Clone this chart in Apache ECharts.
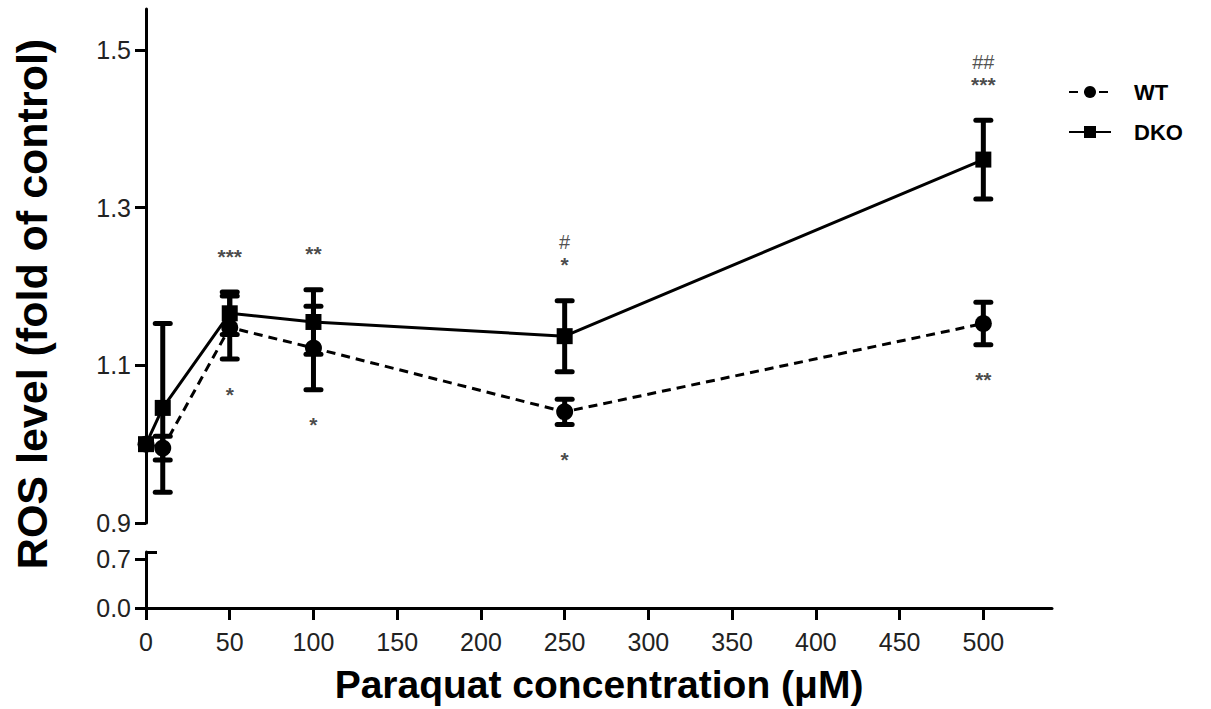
<!DOCTYPE html>
<html><head><meta charset="utf-8">
<script src="https://cdn.jsdelivr.net/npm/echarts@6/dist/echarts.min.js"></script>
<style>html,body{margin:0;padding:0;background:#fff}#c{width:1211px;height:709px}</style>
</head><body><div id="c"></div>
<script>
// ---- data ----
const concentrations = [0, 10, 50, 100, 250, 500];
const wtMean  = [1.000, 0.995, 1.148, 1.122, 1.041, 1.153];
const wtErr   = [0.000, 0.015, 0.040, 0.053, 0.016, 0.027];
const dkoMean = [1.000, 1.046, 1.166, 1.155, 1.137, 1.361];
const dkoErr  = [0.000, 0.107, 0.027, 0.041, 0.045, 0.050];
const starsAbove = ['', '', '***', '**', '*', '***'];
const hashAbove  = ['', '', '', '', '#', '##'];
const starsBelow = ['', '', '*', '*', '*', '**'];
const xTicks = [0, 50, 100, 150, 200, 250, 300, 350, 400, 450, 500];
const yTicksUpper = [0.9, 1.1, 1.3, 1.5];
const yTicksLower = [0.0, 0.7];
const seriesNames = ['WT', 'DKO'];
const xTitle = 'Paraquat concentration (\u03bcM)';
const yTitle = 'ROS level (fold of control)';

// ---- chart ----
const FONT = 'Liberation Sans, Arial, sans-serif';
const chart = echarts.init(document.getElementById('c'), null, {renderer: 'svg'});

function pts(means) { return concentrations.map((x, i) => [x, means[i]]); }
function errData(means, errs) {
  return concentrations.map((x, i) => [x, means[i] - errs[i], means[i] + errs[i], errs[i]]);
}
function errRender(params, api) {
  const e = api.value(3);
  if (!e) return {type: 'group', children: []};
  const x = api.value(0);
  const lo = api.coord([x, api.value(1)]);
  const hi = api.coord([x, api.value(2)]);
  const hw = 7.5;
  const capStyle = {stroke: '#000', lineWidth: 5, lineCap: 'round'};
  const stemStyle = {stroke: '#000', lineWidth: 5};
  return {type: 'group', children: [
    {type: 'line', shape: {x1: lo[0], y1: lo[1], x2: hi[0], y2: hi[1]}, style: stemStyle},
    {type: 'line', shape: {x1: lo[0] - hw, y1: lo[1], x2: lo[0] + hw, y2: lo[1]}, style: capStyle},
    {type: 'line', shape: {x1: hi[0] - hw, y1: hi[1], x2: hi[0] + hw, y2: hi[1]}, style: capStyle}
  ]};
}
function annot(texts, ref, sign) {
  return concentrations.map((x, i) => ({value: [x, ref.mean[i] + sign * ref.err[i]], txt: texts[i]})).filter(d => d.txt);
}
const DKO = {mean: dkoMean, err: dkoErr}, WT = {mean: wtMean, err: wtErr};
const starLabel = {fontFamily: FONT, fontSize: 21, fontWeight: 'bold', lineHeight: 21, color: '#1a1a1a'};
const hashLabel = {fontFamily: FONT, fontSize: 20, lineHeight: 18, color: '#222'};

function annotSeries(name, data, position, distance, style) {
  return {type: 'scatter', name: name, xAxisIndex: 0, yAxisIndex: 0, data: data, symbolSize: 1,
    itemStyle: {color: 'transparent'}, silent: true, z: 5, legendHoverLink: false,
    label: Object.assign({show: true, position: position, distance: distance, formatter: p => p.data.txt}, style)};
}

const axisLine = {show: true, onZero: false, lineStyle: {color: '#000', width: 3}};
const labelStyle = {fontFamily: FONT, fontSize: 25, color: '#222'};

chart.setOption({
  backgroundColor: '#fff',
  animation: false,
  grid: [
    {left: 146, top: 9, width: 906, height: 514, outerBoundsMode: 'none'},
    {left: 146, top: 552, width: 906, height: 56, outerBoundsMode: 'none'}
  ],
  xAxis: [
    {type: 'value', gridIndex: 0, min: 0, max: 541, show: false},
    {type: 'value', gridIndex: 1, min: 0, max: 541, splitLine: {show: false},
     axisLine: axisLine,
     axisTick: {show: true, customValues: xTicks, length: 12, lineStyle: {color: '#000', width: 3}},
     axisLabel: Object.assign({customValues: xTicks, margin: 21}, labelStyle),
     name: xTitle, nameLocation: 'middle', nameGap: 57,
     nameTextStyle: {fontFamily: FONT, fontSize: 39, fontWeight: 'bold', color: '#000'}}
  ],
  yAxis: [
    {type: 'value', gridIndex: 0, min: 0.9, max: 1.552, splitLine: {show: false},
     axisLine: axisLine,
     axisTick: {show: true, customValues: yTicksUpper, length: 11, lineStyle: {color: '#000', width: 3}},
     axisLabel: Object.assign({customValues: yTicksUpper, margin: 15, formatter: v => v.toFixed(1)}, labelStyle)},
    {type: 'value', gridIndex: 1, min: 0, max: 0.8, splitLine: {show: false},
     axisLine: axisLine,
     axisTick: {show: true, customValues: yTicksLower, length: 11, lineStyle: {color: '#000', width: 3}},
     axisLabel: Object.assign({customValues: yTicksLower, margin: 15, formatter: v => v.toFixed(1)}, labelStyle)},
    {type: 'value', gridIndex: 1, position: 'left', min: 0, max: 0.8, offset: 5, splitLine: {show: false},
     axisLine: {show: false},
     axisTick: {show: true, inside: true, customValues: [0.8], length: 11, lineStyle: {color: '#000', width: 3}},
     axisLabel: {show: false}}
  ],
  legend: {
    orient: 'vertical', left: 1068, top: 80, padding: 0, itemWidth: 42, itemHeight: 15, itemGap: 16,
    textStyle: {fontFamily: FONT, fontSize: 22, lineHeight: 24, fontWeight: 'bold', color: '#000', padding: [0, 0, 0, 18]},
    data: seriesNames
  },
  graphic: [{
    type: 'text', x: 32, y: 304, rotation: Math.PI / 2,
    style: {text: yTitle, align: 'center', verticalAlign: 'middle', textAlign: 'center', textVerticalAlign: 'middle',
            font: 'bold 43px ' + FONT, fill: '#000'}
  }],
  series: [
    {type: 'custom', name: 'WT err', xAxisIndex: 0, yAxisIndex: 0, renderItem: errRender,
     data: errData(wtMean, wtErr), z: 2, clip: false, silent: true},
    {type: 'custom', name: 'DKO err', xAxisIndex: 0, yAxisIndex: 0, renderItem: errRender,
     data: errData(dkoMean, dkoErr), z: 2, clip: false, silent: true},
    {type: 'line', name: 'WT', xAxisIndex: 0, yAxisIndex: 0, data: pts(wtMean), clip: false,
     symbol: 'circle', symbolSize: 17, z: 3,
     lineStyle: {color: '#000', width: 3, type: [9, 6]},
     itemStyle: {color: '#000', borderWidth: 0}},
    {type: 'line', name: 'DKO', xAxisIndex: 0, yAxisIndex: 0, data: pts(dkoMean), clip: false,
     symbol: 'rect', symbolSize: 16, z: 4,
     lineStyle: {color: '#000', width: 3, type: 'solid'},
     itemStyle: {color: '#000', borderWidth: 0}},
    annotSeries('starsAbove', annot(starsAbove, DKO, 1), 'top', 25, starLabel),
    annotSeries('hashAbove', annot(hashAbove, DKO, 1), 'top', 49, hashLabel),
    annotSeries('starsBelow', annot(starsBelow, WT, -1), 'bottom', 24, starLabel)
  ]
});
</script></body></html>
